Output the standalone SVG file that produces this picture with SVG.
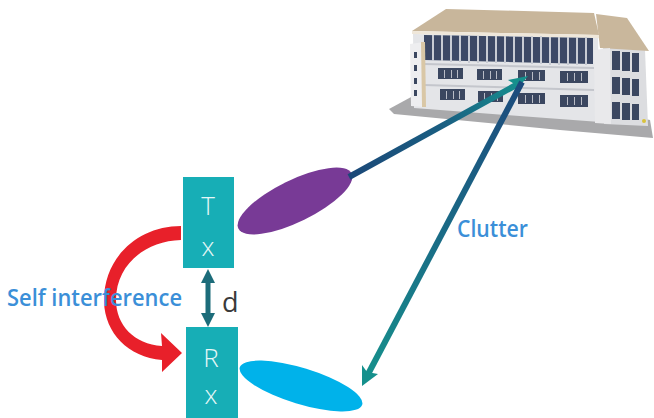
<svg xmlns="http://www.w3.org/2000/svg" width="654" height="418" viewBox="0 0 654 418">
  <defs>
    <style>
      .box { fill: #17aeb6; }
      .boxlabel { font-family: "Open Sans", "Liberation Sans", sans-serif; font-weight: 300; font-size: 26px; fill: #e6f7f7; text-anchor: middle; }
      .label { font-family: "Open Sans", "Liberation Sans", sans-serif; font-weight: 600; font-size: 23px; fill: #3b8fd8; }
      .win { fill: #3a4660; }
    </style>
    <filter id="soft" x="-5%" y="-5%" width="110%" height="110%">
      <feGaussianBlur stdDeviation="0.6"/>
    </filter>
    <linearGradient id="beamGrad" gradientUnits="userSpaceOnUse" x1="350" y1="176" x2="520" y2="82">
      <stop offset="0" stop-color="#1b4878"/>
      <stop offset="0.55" stop-color="#1a5f82"/>
      <stop offset="1" stop-color="#168f8e"/>
    </linearGradient>
    <linearGradient id="clutterGrad" gradientUnits="userSpaceOnUse" x1="522" y1="82" x2="365" y2="380">
      <stop offset="0" stop-color="#1c4a7c"/>
      <stop offset="0.5" stop-color="#1a6a86"/>
      <stop offset="1" stop-color="#16918c"/>
    </linearGradient>
  </defs>

  <rect width="654" height="418" fill="#ffffff"/>

  <!-- Building -->
  <g id="building" filter="url(#soft)">
    <!-- ground plate -->
    <polygon points="389,109 413,96 600,110 650,120 653,138 560,130 394,114" fill="#a9a9ab"/>
    <!-- right wing side -->
    <polygon points="603,46 645,50 648,126 604,124" fill="#dcdde0"/>
    <!-- right wing roof -->
    <polygon points="596,14 627,18 649,51 600,48" fill="#c9b79c"/>
    <!-- main facade -->
    <polygon points="413,34 598,36 600,122 414,108" fill="#e4e5e8"/>
    <!-- main roof -->
    <polygon points="446,9 594,13 599,35 412,31" fill="#c8b69b"/>
    <polygon points="412,31 599,35 599,38 412,34" fill="#efe7da"/>
    <!-- top floor glazing -->
    <polygon points="424,35 593,38 593,64 424,60" fill="#3c4a66"/>
    <g fill="#c9ccd4">
      <rect x="432" y="35" width="2" height="26"/>
      <rect x="441" y="35" width="2" height="26"/>
      <rect x="450" y="35" width="2" height="27"/>
      <rect x="459" y="35" width="2" height="27"/>
      <rect x="468" y="36" width="2" height="27"/>
      <rect x="477" y="36" width="2" height="27"/>
      <rect x="486" y="36" width="2" height="27"/>
      <rect x="495" y="36" width="2" height="27"/>
      <rect x="504" y="36" width="2" height="27"/>
      <rect x="513" y="36" width="2" height="27"/>
      <rect x="522" y="36" width="2" height="27"/>
      <rect x="531" y="36" width="2" height="28"/>
      <rect x="540" y="36" width="2" height="28"/>
      <rect x="549" y="37" width="2" height="28"/>
      <rect x="558" y="37" width="2" height="28"/>
      <rect x="567" y="37" width="2" height="28"/>
      <rect x="576" y="37" width="2" height="28"/>
      <rect x="585" y="37" width="2" height="28"/>
    </g>
    <!-- floor lines -->
    <polygon points="424,63 594,67 594,69 424,65" fill="#c4c6cc"/>
    <polygon points="424,84 594,89 594,91 424,86" fill="#c4c6cc"/>
    <!-- middle floor windows -->
    <rect class="win" x="438" y="68" width="25" height="11"/>
    <rect class="win" x="477" y="69" width="25" height="11"/>
    <rect class="win" x="518" y="70" width="27" height="11"/>
    <rect class="win" x="560" y="71" width="28" height="12"/>
    <!-- lower floor windows -->
    <rect class="win" x="440" y="89" width="25" height="11"/>
    <rect class="win" x="478" y="91" width="25" height="11"/>
    <rect class="win" x="518" y="93" width="27" height="11"/>
    <rect class="win" x="560" y="95" width="28" height="12"/>
    <g fill="#b9bcc6">
      <rect x="444" y="70" width="1" height="8"/><rect x="451" y="70" width="1" height="8"/><rect x="457" y="70" width="1" height="8"/>
      <rect x="483" y="71" width="1" height="8"/><rect x="490" y="71" width="1" height="8"/><rect x="496" y="71" width="1" height="8"/>
      <rect x="525" y="72" width="1" height="8"/><rect x="532" y="72" width="1" height="8"/><rect x="539" y="72" width="1" height="8"/>
      <rect x="567" y="73" width="1" height="8"/><rect x="574" y="73" width="1" height="8"/><rect x="581" y="73" width="1" height="8"/>
      <rect x="446" y="91" width="1" height="8"/><rect x="453" y="91" width="1" height="8"/><rect x="459" y="91" width="1" height="8"/>
      <rect x="484" y="93" width="1" height="8"/><rect x="491" y="93" width="1" height="8"/><rect x="497" y="93" width="1" height="8"/>
      <rect x="525" y="95" width="1" height="8"/><rect x="532" y="95" width="1" height="8"/><rect x="539" y="95" width="1" height="8"/>
      <rect x="567" y="97" width="1" height="8"/><rect x="574" y="97" width="1" height="8"/><rect x="581" y="97" width="1" height="8"/>
    </g>
    <!-- left stair tower -->
    <polygon points="410,44 424,42 425,107 411,106" fill="#eeeef0"/>
    <polygon points="421,42 425,42 426,107 422,107" fill="#d9c7a6"/>
    <rect class="win" x="414" y="52" width="3" height="6"/>
    <rect class="win" x="414" y="65" width="3" height="6"/>
    <rect class="win" x="414" y="78" width="3" height="6"/>
    <rect class="win" x="414" y="90" width="3" height="6"/>
    <!-- right corner pillar -->
    <polygon points="594,50 610,48 611,124 595,123" fill="#e9e9eb"/>
    <!-- right wing windows -->
    <rect class="win" x="612" y="51" width="8" height="19"/>
    <rect class="win" x="622" y="52" width="8" height="19"/>
    <rect class="win" x="632" y="53" width="7" height="19"/>
    <rect class="win" x="612" y="77" width="8" height="17"/>
    <rect class="win" x="622" y="78" width="8" height="17"/>
    <rect class="win" x="632" y="79" width="7" height="17"/>
    <rect class="win" x="612" y="102" width="8" height="17"/>
    <rect class="win" x="622" y="103" width="8" height="17"/>
    <rect class="win" x="632" y="104" width="7" height="16"/>
    <circle cx="644" cy="121" r="2" fill="#d8c23a"/>
  </g>

  <!-- Beams -->
  <g id="beam-ellipses">
    <ellipse id="tx-beam" cx="295" cy="201" rx="63" ry="21" transform="rotate(-26 295 201)" fill="#783a96"/>
    <ellipse id="rx-beam" cx="301" cy="386" rx="64" ry="18" transform="rotate(17 301 386)" fill="#00b2ea"/>
  </g>

  <!-- Nodes -->
  <g id="tx">
    <rect class="box" x="183" y="177" width="51" height="91"/>
    <text class="boxlabel" x="208" y="215">T</text>
    <text class="boxlabel" x="208" y="256">x</text>
  </g>
  <g id="rx">
    <rect class="box" x="186" y="327" width="52" height="95"/>
    <text class="boxlabel" x="211" y="367">R</text>
    <text class="boxlabel" x="211" y="404">x</text>
  </g>

  <!-- Connectors -->
  <g id="connectors">
    <!-- transmit path towards the building -->
    <path d="M349,177 L518,84" stroke="url(#beamGrad)" stroke-width="6" fill="none"/>
    <polygon points="528,76 508,80 516,85 514,93" fill="#15908c"/>
    <!-- clutter return to the receiver -->
    <path d="M522,82 L366,378" stroke="url(#clutterGrad)" stroke-width="6" fill="none"/>
    <polygon points="362,386 362,365 367,372 378,374" fill="#15908c"/>
    <!-- Tx/Rx separation -->
    <g id="separation" fill="#1c6c7a">
      <rect x="205.5" y="280" width="5" height="36"/>
      <polygon points="208,269 201,283 215,283"/>
      <polygon points="208,327 201,313 215,313"/>
    </g>
    <!-- self interference arc -->
    <path id="self-interference-arrow" d="M181,226 C138,226 103,258 104,302 C105,333 128,357 162,360 L162,372 L182,353 L161,333 L162,346 C134,344 116,325 116,300 C116,265 145,241 181,240 Z" fill="#e8202a"/>
  </g>

  <!-- Labels -->
  <g id="labels">
    <text class="label" x="7" y="306" textLength="175" lengthAdjust="spacingAndGlyphs">Self interference</text>
    <text class="label" x="457" y="237" textLength="71" lengthAdjust="spacingAndGlyphs">Clutter</text>
    <text x="222" y="312" font-family="Open Sans, Liberation Sans, sans-serif" font-size="27" fill="#3a3a3a">d</text>
  </g>
</svg>
